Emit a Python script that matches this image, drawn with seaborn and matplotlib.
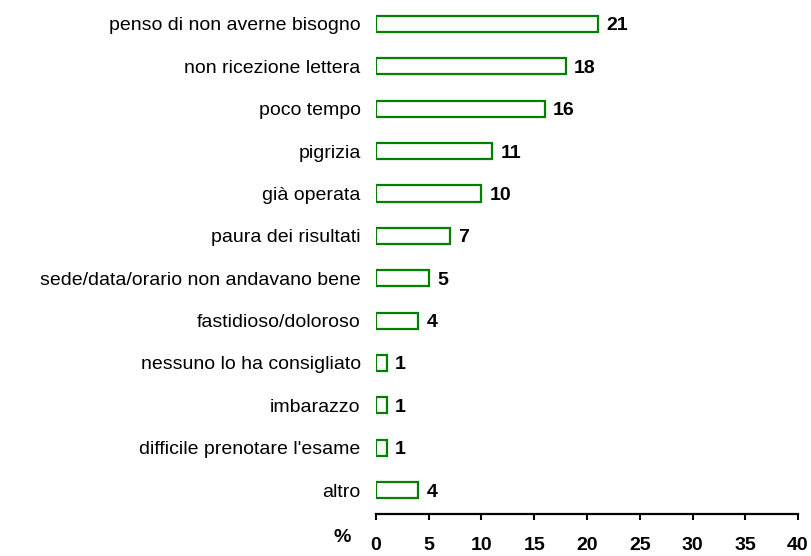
import matplotlib
matplotlib.use('Agg')
import matplotlib.pyplot as plt
import seaborn as sns
import pandas as pd

categories = ['penso di non averne bisogno', 'non ricezione lettera', 'poco tempo',
              'pigrizia', 'già operata', 'paura dei risultati',
              'sede/data/orario non andavano bene', 'fastidioso/doloroso',
              'nessuno lo ha consigliato', 'imbarazzo', "difficile prenotare l'esame",
              'altro']
values = [21, 18, 16, 11, 10, 7, 5, 4, 1, 1, 1, 4]
x_ticks = [0, 5, 10, 15, 20, 25, 30, 35, 40]

data = pd.DataFrame({'motivo': categories, 'pct': values})

sns.set_style('white')
plt.rcParams['font.family'] = ['Liberation Sans', 'DejaVu Sans']
plt.rcParams['text.color'] = 'black'
plt.rcParams['xtick.color'] = 'black'
plt.rcParams['ytick.color'] = 'black'

fig = plt.figure(figsize=(8.11, 5.56), dpi=100)
ax = fig.add_axes([0.4636, 0.0755, 0.5204, 0.9245])

# barre vuote con bordo verde
sns.barplot(data=data, x='pct', y='motivo', orient='h', color='white',
            edgecolor='#008000', linewidth=1.6, width=0.38, ax=ax)

for c in ax.containers:
    labels = ax.bar_label(c, padding=6, fontsize=14, fontweight='bold', color='black')
    for t in labels:
        t.set_va('center_baseline')

ax.set_xlim(0, 40)
ax.set_ylim(11.566, -0.566)
ax.set_xticks(x_ticks)
ax.set_xticklabels([str(t) for t in x_ticks], fontsize=14, fontweight='bold')
ax.tick_params(axis='x', direction='out', length=4.5, width=1.5, pad=12, bottom=True)
ax.tick_params(axis='y', length=0, pad=11, labelsize=14)
ax.set_xlabel('')
ax.set_ylabel('')

for s in ['top', 'right', 'left']:
    ax.spines[s].set_visible(False)
ax.spines['bottom'].set_linewidth(1.6)
ax.spines['bottom'].set_color('black')

fig.text(333 / 811, 1 - 537 / 556, '%', fontsize=14, fontweight='bold', ha='left', va='center')

fig.savefig('out.png', dpi=100)
